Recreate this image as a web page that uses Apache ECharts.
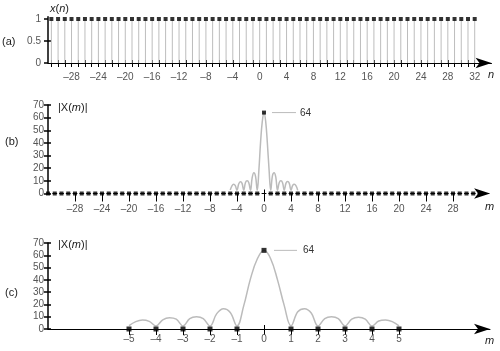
<!DOCTYPE html>
<html><head><meta charset="utf-8">
<script src="https://cdn.jsdelivr.net/npm/echarts@6/dist/echarts.min.js"></script>
<style>html,body{margin:0;padding:0;background:#fff}#c{width:500px;height:351px}</style>
</head><body><div id="c"></div>
<script>
// ---- data ----
const aN = [-31,-30,-29,-28,-27,-26,-25,-24,-23,-22,-21,-20,-19,-18,-17,-16,-15,-14,-13,-12,-11,-10,-9,-8,-7,-6,-5,-4,-3,-2,-1,0,1,2,3,4,5,6,7,8,9,10,11,12,13,14,15,16,17,18,19,20,21,22,23,24,25,26,27,28,29,30,31,32];
const aX = [1,1,1,1,1,1,1,1,1,1,1,1,1,1,1,1,1,1,1,1,1,1,1,1,1,1,1,1,1,1,1,1,1,1,1,1,1,1,1,1,1,1,1,1,1,1,1,1,1,1,1,1,1,1,1,1,1,1,1,1,1,1,1,1];
const bM = [-32,-31,-30,-29,-28,-27,-26,-25,-24,-23,-22,-21,-20,-19,-18,-17,-16,-15,-14,-13,-12,-11,-10,-9,-8,-7,-6,-5,-4,-3,-2,-1,0,1,2,3,4,5,6,7,8,9,10,11,12,13,14,15,16,17,18,19,20,21,22,23,24,25,26,27,28,29,30,31];
const bX = [0,0,0,0,0,0,0,0,0,0,0,0,0,0,0,0,0,0,0,0,0,0,0,0,0,0,0,0,0,0,0,0,64,0,0,0,0,0,0,0,0,0,0,0,0,0,0,0,0,0,0,0,0,0,0,0,0,0,0,0,0,0,0,0];
const cM = [-5,-4,-3,-2,-1,0,1,2,3,4,5];
const cX = [0,0,0,0,0,64,0,0,0,0,0];
// continuous |X(m)| envelope
const envM = [-5,-4.75,-4.5,-4.25,-4,-3.75,-3.5,-3.25,-3,-2.75,-2.5,-2.25,-2,-1.75,-1.5,-1.25,-1,-0.75,-0.5,-0.25,0,0.25,0.5,0.75,1,1.25,1.5,1.75,2,2.25,2.5,2.75,3,3.25,3.5,3.75,4,4.25,4.5,4.75,5];
const envV = [2.7,6,7.3,6.2,2.5,7.5,9.2,8,2.5,8.5,10,8.5,2.5,12.5,16.5,13.5,2.5,19,41,57,64,57,40,19,2.5,14,16.5,13,2.5,8.5,10,8.5,2.5,8,9.5,8,2.5,6.5,7.3,6,2.5];
// tick labels
const aXLabels = [-28,-24,-20,-16,-12,-8,-4,0,4,8,12,16,20,24,28,32];
const aYLabels = [0,0.5,1];
const bXLabels = [-28,-24,-20,-16,-12,-8,-4,0,4,8,12,16,20,24,28];
const bYLabels = [0,10,20,30,40,50,60,70];
const cXLabels = [-5,-4,-3,-2,-1,0,1,2,3,4,5];
const cYLabels = [0,10,20,30,40,50,60,70];

// ---- helpers ----
const FONT = 'Liberation Sans';
const LBL = '#555';
const fmt = v => (v < 0 ? '\u2013' + Math.abs(v) : String(v));
function xMain(grid, min, max, ticks, labels, tickLen, margin, lineStyle) {
  return {type:'value', gridIndex:grid, position:'bottom', min, max, splitLine:{show:false},
    axisLine:{show:true, onZero:false, symbol:['none','arrow'], symbolSize:[8,16], lineStyle:Object.assign({color:'#000', width:1}, lineStyle||{})},
    axisTick:{show:true, length:tickLen, customValues:ticks, lineStyle:{color:'#000', width:1}},
    axisLabel:{show:true, customValues:labels, margin, formatter:fmt, color:LBL, fontFamily:FONT, fontSize:10}};
}
function xInner(grid, min, max, ticks, len) {
  return {type:'value', gridIndex:grid, position:'bottom', min, max, splitLine:{show:false},
    axisLine:{show:false, onZero:false}, axisLabel:{show:false},
    axisTick:{show:true, inside:true, length:len, customValues:ticks, lineStyle:{color:'#000', width:1}}};
}
function yMain(grid, min, max, labels, margin) {
  return {type:'value', gridIndex:grid, position:'left', min, max, splitLine:{show:false},
    axisLine:{show:true, onZero:false, lineStyle:{color:'#000', width:1.5}},
    axisTick:{show:true, length:4, customValues:labels, lineStyle:{color:'#000', width:1.5}},
    axisLabel:{show:true, customValues:labels, margin, color:LBL, fontFamily:FONT, fontSize:10}};
}
function yInner(grid, min, max, ticks) {
  return {type:'value', gridIndex:grid, position:'left', min, max, splitLine:{show:false},
    axisLine:{show:false, onZero:false}, axisLabel:{show:false},
    axisTick:{show:true, inside:true, length:3, customValues:ticks, lineStyle:{color:'#000', width:1.5}}};
}
const zip = (xs, ys) => xs.map((x, i) => [x, ys[i]]);

const chart = echarts.init(document.getElementById('c'), null, {renderer:'canvas'});
const option = {
  animation:false,
  backgroundColor:'#fff',
  grid:[
    {left:48, top:16.8, width:443.5, height:46.2},
    {left:48, top:105, width:442.1, height:88.5},
    {left:48, top:243, width:442, height:86}
  ],
  xAxis:[
    xMain(0, -31.5, 34.5, aN, aXLabels, 4, 9),
    xInner(0, -31.5, 34.5, aN, 3),
    xMain(1, -32, 33.5, bXLabels, bXLabels, 8, 11, {type:[4,2.75], dashOffset:2}),
    xInner(1, -32, 33.5, [0], 4),
    xMain(2, -8, 8.37, cXLabels, cXLabels, 6, 5),
    xInner(2, -8, 8.37, [0], 4)
  ],
  yAxis:[
    yMain(0, 0, 1.05, aYLabels, 7),
    yInner(0, 0, 1.05, [0.5]),
    yMain(1, 0, 70, bYLabels, 4),
    yInner(1, 0, 70, bYLabels),
    yMain(2, 0, 70, cYLabels, 4),
    yInner(2, 0, 70, cYLabels)
  ],
  series:[
    {type:'bar', xAxisIndex:0, yAxisIndex:0, data:zip(aN, aX), barWidth:1, itemStyle:{color:'#bdbdbd'}, silent:true, z:1},
    {type:'scatter', xAxisIndex:0, yAxisIndex:0, data:zip(aN, aX), symbol:'rect', symbolSize:4, itemStyle:{color:'#000'}, z:3},
    {type:'line', xAxisIndex:2, yAxisIndex:2, data:zip(envM, envV), smooth:0.4, showSymbol:false, lineStyle:{color:'#bbb', width:1.5}, z:1},
    {type:'scatter', xAxisIndex:2, yAxisIndex:2, data:zip(bM, bX), symbol:'rect', symbolSize:4, itemStyle:{color:'#000'}, z:3},
    {type:'line', xAxisIndex:4, yAxisIndex:4, data:zip(envM, envV), smooth:0.4, showSymbol:false, lineStyle:{color:'#bbb', width:1.5}, z:1},
    {type:'scatter', xAxisIndex:4, yAxisIndex:4, data:zip(cM, cX), symbol:'rect', symbolSize:5, itemStyle:{color:'#000'}, z:3}
  ]
};
chart.setOption(option);

// annotations positioned from data through the library's scales
const pB = chart.convertToPixel({xAxisIndex:2, yAxisIndex:2}, [0, Math.max(...bX)]);
const pC = chart.convertToPixel({xAxisIndex:4, yAxisIndex:4}, [0, Math.max(...cX)]);
const txt = (x, y, text, extra) => ({type:'text', x, y, style:Object.assign({text, fill:'#222', font:'11px ' + FONT, textVerticalAlign:'middle'}, extra||{})});
const rich = {i:{fontStyle:'italic', fontFamily:FONT, fontSize:11, fill:'#222'}, r:{fontFamily:FONT, fontSize:11, fill:'#222'}};
chart.setOption({graphic:[
  txt(2, 42, '(a)'), txt(5, 142, '(b)'), txt(5, 293, '(c)'),
  {type:'text', x:50, y:9, style:{text:'{i|x}{r|(}{i|n}{r|)}', rich, textVerticalAlign:'middle'}},
  {type:'text', x:58, y:108, style:{text:'{r||X(}{i|m}{r|)|}', rich, textVerticalAlign:'middle'}},
  {type:'text', x:58, y:245, style:{text:'{r||X(}{i|m}{r|)|}', rich, textVerticalAlign:'middle'}},
  txt(488, 75, 'n', {font:'italic 11px ' + FONT}),
  txt(485, 207, 'm', {font:'italic 11px ' + FONT}),
  txt(485, 341, 'm', {font:'italic 11px ' + FONT}),
  {type:'line', shape:{x1:pB[0] + 8, y1:pB[1], x2:pB[0] + 32, y2:pB[1]}, style:{stroke:'#bbb', lineWidth:1}},
  txt(pB[0] + 36, pB[1] + 1, String(Math.max(...bX)), {font:'10px ' + FONT, fill:'#333'}),
  {type:'line', shape:{x1:pC[0] + 10, y1:pC[1], x2:pC[0] + 33, y2:pC[1]}, style:{stroke:'#bbb', lineWidth:1}},
  txt(pC[0] + 39, pC[1], String(Math.max(...cX)), {font:'10px ' + FONT, fill:'#333'})
]});
</script></body></html>
